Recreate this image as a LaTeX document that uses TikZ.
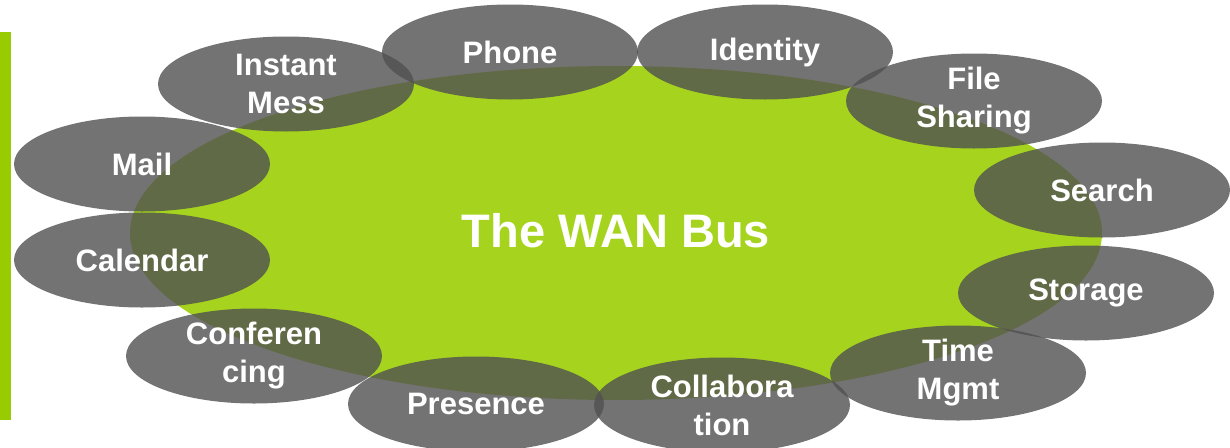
\documentclass[tikz,border=0pt]{standalone}
\usepackage{fontspec}
\setmainfont{Liberation Sans}
\usetikzlibrary{shapes.geometric}
\definecolor{busgreen}{RGB}{166,212,30}
\definecolor{bargreen}{RGB}{153,204,0}
\definecolor{svcgray}{RGB}{80,80,80}
\tikzset{
  bus/.style={ellipse, fill=busgreen, inner sep=0pt, minimum width=972pt, minimum height=334pt,
    text=white, font=\bfseries\fontsize{47}{56}\selectfont},
  svc/.style={ellipse, fill=svcgray, fill opacity=0.8, text opacity=1, inner sep=0pt,
    minimum width=256pt, minimum height=95pt, align=center, text=white,
    font=\bfseries\fontsize{31}{38}\selectfont}
}
\begin{document}
\begin{tikzpicture}[x=1pt, y=-1pt]
    \useasboundingbox (0, 0) rectangle (1230, 447);
    \fill[bargreen] (0, 32) rectangle (11, 420);

    \node[bus] (wan) at (616, 233) {\raisebox{5pt}{The WAN Bus}};

    \node[svc] (im) at (286, 84) {Instant\\Mess};
    \node[svc] (mail) at (142, 164) {Mail};
    \node[svc] (cal) at (142, 260) {Calendar};
    \node[svc] (conf) at (254, 356) {Conferen\\cing};
    \node[svc] (phone) at (510, 52) {Phone};
    \node[svc] (ident) at (765, 52) {Identity};
    \node[svc] (file) at (974, 101) {File\\Sharing};
    \node[svc] (search) at (1102, 190) {Search};
    \node[svc] (store) at (1086, 293) {Storage};
    \node[svc] (time) at (958, 373) {Time\\Mgmt};
    \node[svc] (pres) at (476, 404) {Presence};
    \node[svc] (collab) at (722, 405) {Collabora\\tion};
\end{tikzpicture}
\end{document}
